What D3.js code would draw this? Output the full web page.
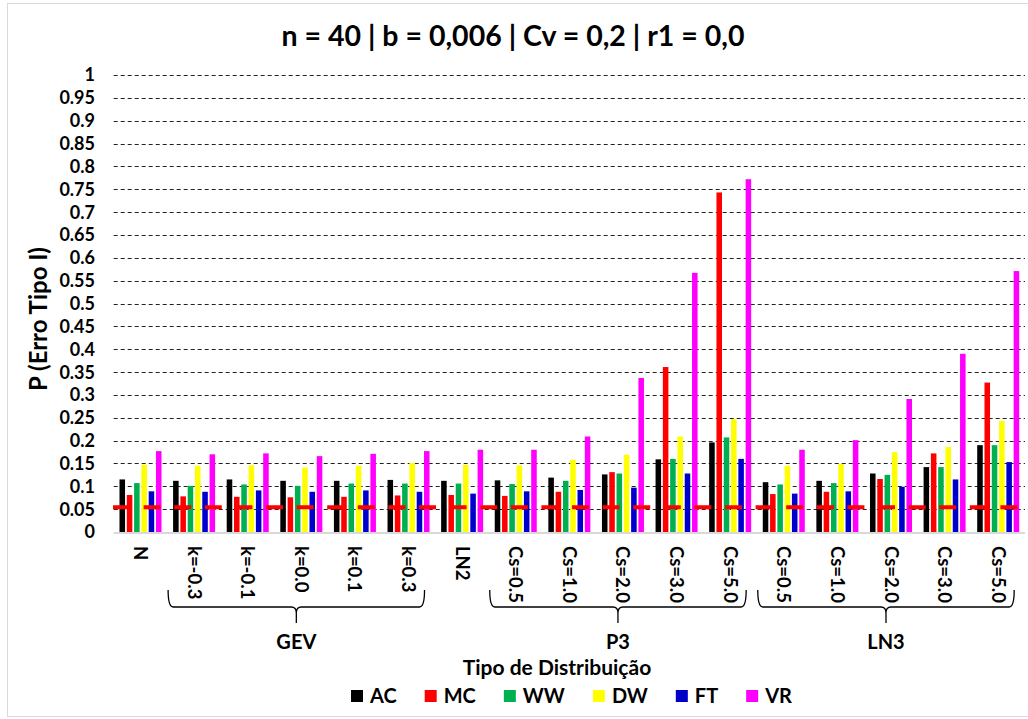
<!DOCTYPE html>
<html><head><meta charset="utf-8">
<script src="https://cdn.jsdelivr.net/npm/d3@7"></script>
<style>body{margin:0;background:#fff}svg{display:block}text{font-family:Lato,"Open Sans",sans-serif;font-weight:bold;fill:#000}</style>
</head><body><svg id="c" width="1028" height="719"></svg>
<script>
const categories = ["N","k=-0.3","k=-0.1","k=0.0","k=0.1","k=0.3","LN2","Cs=0.5","Cs=1.0","Cs=2.0","Cs=3.0","Cs=5.0","Cs=0.5","Cs=1.0","Cs=2.0","Cs=3.0","Cs=5.0"];
const seriesNames = ["AC","MC","WW","DW","FT","VR"];
const seriesColors = ["#000000","#ff0000","#00b050","#ffff00","#0000cc","#ff00ff"];
const AC = [0.115,0.112,0.115,0.112,0.112,0.114,0.112,0.113,0.119,0.126,0.159,0.196,0.109,0.112,0.128,0.142,0.190];
const MC = [0.081,0.078,0.077,0.076,0.077,0.080,0.081,0.079,0.088,0.131,0.361,0.743,0.083,0.088,0.116,0.172,0.327];
const WW = [0.107,0.101,0.104,0.101,0.106,0.106,0.106,0.105,0.112,0.128,0.160,0.207,0.104,0.107,0.125,0.142,0.190];
const DW = [0.147,0.145,0.146,0.141,0.145,0.151,0.147,0.146,0.158,0.169,0.209,0.247,0.145,0.149,0.175,0.186,0.243];
const FT = [0.089,0.088,0.091,0.088,0.091,0.088,0.084,0.089,0.092,0.097,0.128,0.160,0.084,0.089,0.099,0.115,0.153];
const VR = [0.177,0.170,0.172,0.166,0.171,0.177,0.180,0.180,0.209,0.337,0.567,0.772,0.180,0.201,0.291,0.390,0.571];
const refLevel = 0.054;
const yTicks = [0,0.05,0.1,0.15,0.2,0.25,0.3,0.35,0.4,0.45,0.5,0.55,0.6,0.65,0.7,0.75,0.8,0.85,0.9,0.95,1];
const groups = [{name:"GEV",from:1,to:5},{name:"P3",from:7,to:11},{name:"LN3",from:12,to:16}];
const title = "n = 40 | b = 0,006 | Cv = 0,2 | r1 = 0,0";
const yTitle = "P (Erro Tipo I)";
const xTitle = "Tipo de Distribuição";

const values = [AC,MC,WW,DW,FT,VR];
const svg = d3.select("#c");
const L = 113.7, R = 1025, T = 75, B = 532;

svg.append("rect").attr("x",7.5).attr("y",3.5).attr("width",1040).attr("height",713)
  .attr("fill","none").attr("stroke","#d9d9d9");

const x = d3.scaleBand().domain(d3.range(categories.length)).range([L,R]).padding(0);
const xi = d3.scaleBand().domain(d3.range(seriesNames.length)).range([5.8, x.bandwidth()-5.8]).paddingInner(0.24).paddingOuter(0);
const y = d3.scaleLinear().domain([0,1]).range([B,T]);

// gridlines
svg.append("g").selectAll("line").data(yTicks.slice(1)).join("line")
  .attr("x1",L).attr("x2",R).attr("y1",d=>Math.round(y(d))+0.5).attr("y2",d=>Math.round(y(d))+0.5)
  .attr("stroke","#222").attr("stroke-width",1.2).attr("stroke-dasharray","4,3");
// baseline
svg.append("line").attr("x1",L).attr("x2",R).attr("y1",y(0)+1).attr("y2",y(0)+1).attr("stroke","#d9d9d9").attr("stroke-width",2);

// y tick labels
svg.append("g").selectAll("text").data(yTicks).join("text")
  .attr("x",95).attr("y",d=>y(d)).attr("dy","0.36em").attr("text-anchor","end")
  .style("font-size","18px").text(d=>String(d));

// bars
const gCat = svg.append("g").selectAll("g").data(categories).join("g")
  .attr("transform",(d,i)=>`translate(${x(i)},0)`);
gCat.selectAll("rect").data((d,i)=>values.map((s,k)=>({k,v:s[i]}))).join("rect")
  .attr("x",d=>xi(d.k)).attr("width",xi.bandwidth())
  .attr("y",d=>y(d.v)).attr("height",d=>y(0)-y(d.v))
  .attr("fill",d=>seriesColors[d.k]);

// reference dashed line
svg.append("line").attr("x1",L-0.7).attr("x2",R).attr("y1",y(refLevel)).attr("y2",y(refLevel))
  .attr("stroke","#ff0000").attr("stroke-width",4).attr("stroke-dasharray","17,13.6");

// x category labels
svg.append("g").selectAll("text").data(categories).join("text")
  .attr("transform",(d,i)=>`translate(${x(i)+x.bandwidth()/2},546) rotate(90)`)
  .attr("dy","0.35em").style("font-size","18.5px").text(d=>d);

// brackets
const yb0=590, yb1=607, yb2=623;
groups.forEach(g=>{
  const xl = x(g.from)+x.bandwidth()/2-26, xr = x(g.to)+x.bandwidth()/2+16, xc=(xl+xr)/2;
  const p = `M${xl},${yb0} Q${xl},${yb1} ${xl+5},${yb1} L${xc-5},${yb1} Q${xc},${yb1} ${xc},${yb1+6} L${xc},${yb2} M${xc},${yb1+6} Q${xc},${yb1} ${xc+5},${yb1} L${xr-5},${yb1} Q${xr},${yb1} ${xr},${yb0}`;
  svg.append("path").attr("d",p).attr("fill","none").attr("stroke","#000").attr("stroke-width",1.3);
  svg.append("text").attr("x",xc).attr("y",649).attr("text-anchor","middle").style("font-size","20px").text(g.name);
});

svg.append("text").attr("x",513).attr("y",46).attr("text-anchor","middle").style("font-size","28.5px").text(title);
svg.append("text").attr("transform","translate(47,319) rotate(-90)").attr("text-anchor","middle").style("font-size","24px").text(yTitle);
svg.append("text").attr("x",557).attr("y",675).attr("text-anchor","middle").style("font-size","21px").text(xTitle);

// legend
let cx = 351;
const lg = svg.append("g");
seriesNames.forEach((n,k)=>{
  lg.append("rect").attr("x",cx).attr("y",690).attr("width",12).attr("height",12).attr("fill",seriesColors[k]);
  const t = lg.append("text").attr("x",cx+19).attr("y",703).style("font-size","20px").text(n);
  cx += 19 + t.node().getComputedTextLength() + 28;
});
</script></body></html>
